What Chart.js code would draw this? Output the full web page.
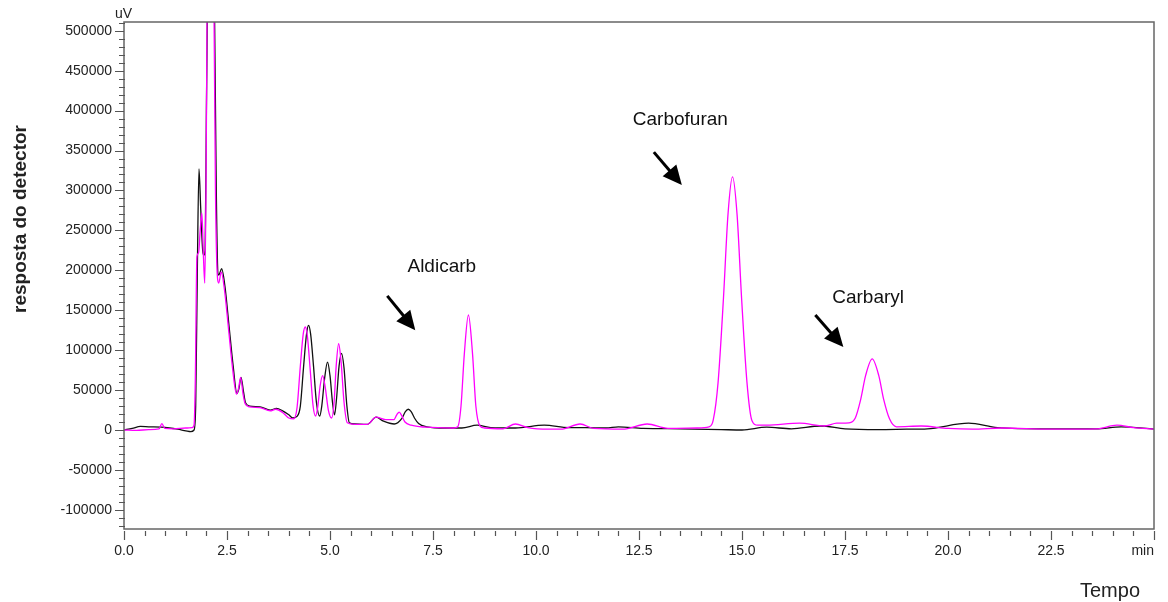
<!DOCTYPE html>
<html>
<head>
<meta charset="utf-8">
<script src="https://cdn.jsdelivr.net/npm/chart.js@4.4.0/dist/chart.umd.min.js"></script>
<style>
  html, body { margin: 0; padding: 0; background: #fff; }
  canvas { display: block; }
</style>
</head>
<body>
<canvas id="chrom" width="1168" height="602" style="width:1168px;height:602px"></canvas>
<script>
// retention time (min) and detector response (uV)
const blackTime = [0, 0.2, 0.4, 0.6, 0.9, 1.1, 1.3, 1.5, 1.62, 1.7, 1.74, 1.78, 1.82, 1.86, 1.91, 1.94, 1.97, 2.0, 2.03, 2.11, 2.19, 2.24, 2.28, 2.30, 2.37, 2.45, 2.55, 2.65, 2.74, 2.79, 2.84, 2.90, 2.95, 3.05, 3.3, 3.55, 3.7, 3.85, 4.0, 4.1, 4.2, 4.28, 4.36, 4.43, 4.48, 4.53, 4.6, 4.67, 4.75, 4.8, 4.87, 4.94, 5.0, 5.06, 5.11, 5.16, 5.22, 5.28, 5.34, 5.41, 5.47, 5.6, 5.9, 6.12, 6.3, 6.56, 6.75, 6.83, 6.9, 6.97, 7.05, 7.15, 7.35, 7.8, 8.2, 8.57, 8.9, 9.5, 10.2, 10.8, 11.2, 11.7, 12.0, 12.6, 13.5, 14.5, 15.0, 15.6, 16.2, 16.9, 17.5, 18.3, 19.0, 19.5, 20.5, 21.2, 22.4, 23.6, 24.2, 25.0];
const blackSignal = [0, 2000, 4500, 4000, 3500, 2500, 1000, -1000, -2000, 0, 30000, 200000, 327000, 280000, 225000, 219000, 225000, 400000, 560000, 1200000, 560000, 300000, 196000, 194000, 202000, 180000, 130000, 80000, 46000, 52000, 66000, 48000, 34000, 30000, 29000, 25000, 27000, 24000, 19000, 15000, 17000, 30000, 80000, 120000, 131000, 120000, 80000, 35000, 17500, 30000, 65000, 85000, 68000, 35000, 19000, 40000, 80000, 96000, 78000, 30000, 9000, 7500, 7000, 16000, 11000, 7500, 15000, 23000, 26000, 23000, 15000, 8000, 4000, 2500, 2500, 6000, 3000, 2500, 6000, 3000, 3000, 2500, 4000, 2000, 1500, 500, 0, 3500, 1500, 5000, 1500, 500, 1000, 1500, 8500, 3000, 1500, 1500, 4000, 1000];

const pinkTime = [0, 0.3, 0.6, 0.85, 0.92, 0.99, 1.2, 1.5, 1.65, 1.7, 1.73, 1.77, 1.81, 1.85, 1.89, 1.93, 1.96, 1.99, 2.02, 2.10, 2.18, 2.22, 2.27, 2.30, 2.36, 2.44, 2.54, 2.64, 2.73, 2.78, 2.83, 2.89, 2.94, 3.05, 3.3, 3.55, 3.68, 3.85, 4.0, 4.12, 4.2, 4.28, 4.35, 4.4, 4.45, 4.52, 4.59, 4.65, 4.7, 4.76, 4.82, 4.88, 4.96, 5.04, 5.1, 5.15, 5.21, 5.27, 5.34, 5.42, 5.6, 5.9, 6.12, 6.35, 6.55, 6.62, 6.68, 6.74, 6.82, 6.97, 7.33, 8.0, 8.1, 8.18, 8.26, 8.36, 8.46, 8.54, 8.64, 8.75, 9.2, 9.5, 9.8, 10.3, 10.6, 11.07, 11.4, 12.1, 12.7, 13.2, 13.9, 14.2, 14.3, 14.42, 14.55, 14.66, 14.77, 14.88, 14.99, 15.12, 15.24, 15.38, 15.6, 16.4, 17.0, 17.3, 17.6, 17.75, 17.88, 18.0, 18.16, 18.32, 18.44, 18.58, 18.75, 19.35, 20.0, 20.6, 21.3, 22.5, 23.6, 24.1, 24.5, 25.0];
const pinkSignal = [0, -500, 500, 1500, 8000, 2000, 1500, 2500, 3000, 6000, 60000, 217000, 222000, 250000, 272000, 215000, 184000, 300000, 560000, 1200000, 560000, 300000, 190000, 184000, 198000, 175000, 125000, 75000, 45000, 52000, 66000, 45000, 33000, 29000, 28000, 24000, 26000, 22000, 15000, 14000, 28000, 80000, 120000, 129000, 118000, 75000, 30000, 17500, 28000, 55000, 68000, 55000, 25000, 15000, 35000, 80000, 108000, 85000, 35000, 9000, 7000, 7000, 16000, 13000, 13000, 19000, 22500, 18000, 10000, 6000, 3500, 2500, 4000, 30000, 95000, 144000, 95000, 30000, 5000, 2500, 1500, 7500, 3000, 1000, 1000, 7500, 2000, 1000, 7500, 2000, 2500, 4000, 12000, 60000, 165000, 270000, 317000, 270000, 165000, 60000, 12000, 6000, 6000, 8500, 5000, 8500, 9000, 15000, 38000, 68000, 89000, 68000, 38000, 14000, 4000, 5000, 2000, 1000, 2500, 1000, 1500, 6000, 3000, 1000];

const xTicks = [0, 2.5, 5, 7.5, 10, 12.5, 15, 17.5, 20, 22.5, 25];
const yTicks = [-100000, -50000, 0, 50000, 100000, 150000, 200000, 250000, 300000, 350000, 400000, 450000, 500000];

// peak labels: text position and arrow tail/tip, in (min, uV)
const peakNames = ['Aldicarb', 'Carbofuran', 'Carbaryl'];
const labelAt = [[6.88, 198000], [12.35, 382000], [17.19, 159000]];
const arrowFrom = [[6.39, 168000], [12.86, 348000], [16.78, 144000]];
const arrowTo = [[7.07, 125000], [13.54, 307000], [17.46, 104000]];

const FONT = "'Liberation Sans', Arial, sans-serif";

const toPoints = (ts, vs) => ts.map((t, i) => ({ x: t, y: vs[i] }));

const chromDecor = {
    id: 'chromDecor',
    afterDraw(chart) {
        const { ctx, chartArea: a, scales: { x, y } } = chart;
        ctx.save();

        // frame
        ctx.strokeStyle = '#666';
        ctx.lineWidth = 1.5;
        ctx.strokeRect(a.left, a.top, a.right - a.left, a.bottom - a.top);

        // y ticks, minor every 10000
        ctx.lineWidth = 1.2;
        ctx.strokeStyle = '#555';
        ctx.beginPath();
        for (let v = -120000; v <= 510000; v += 10000) {
            const py = Math.round(y.getPixelForValue(v)) + 0.5;
            const major = v % 50000 === 0;
            ctx.moveTo(a.left - (major ? 9 : 5), py);
            ctx.lineTo(a.left + (major ? 0 : 1), py);
        }
        // x ticks, minor every 0.5 min
        for (let i = 0; i <= 50; i++) {
            const px = Math.round(x.getPixelForValue(i * 0.5)) + 0.5;
            const major = i % 5 === 0;
            ctx.moveTo(px, a.bottom + 2);
            ctx.lineTo(px, a.bottom + (major ? 11 : 7));
        }
        ctx.stroke();

        // axis unit and titles
        ctx.fillStyle = '#222';
        ctx.font = '14px ' + FONT;
        ctx.textAlign = 'left';
        ctx.textBaseline = 'alphabetic';
        ctx.fillText('uV', 115, 18);

        ctx.textAlign = 'right';
        ctx.fillText('min', a.right, 555);

        ctx.textAlign = 'left';
        ctx.font = '20px ' + FONT;
        ctx.fillText('Tempo', 1080, 597);

        ctx.save();
        ctx.translate(26, 219);
        ctx.rotate(-Math.PI / 2);
        ctx.textAlign = 'center';
        ctx.font = 'bold 19px ' + FONT;
        ctx.fillText('resposta do detector', 0, 0);
        ctx.restore();

        // peak labels + arrows
        ctx.strokeStyle = '#000';
        peakNames.forEach((name, i) => {
            ctx.fillStyle = '#111';
            ctx.font = '19px ' + FONT;
            ctx.fillText(name, x.getPixelForValue(labelAt[i][0]), y.getPixelForValue(labelAt[i][1]));

            const x0 = x.getPixelForValue(arrowFrom[i][0]), y0 = y.getPixelForValue(arrowFrom[i][1]);
            const x1 = x.getPixelForValue(arrowTo[i][0]), y1 = y.getPixelForValue(arrowTo[i][1]);
            const ang = Math.atan2(y1 - y0, x1 - x0);
            const head = 19, half = 9;
            const bx = x1 - Math.cos(ang) * head, by = y1 - Math.sin(ang) * head;

            ctx.lineWidth = 3;
            ctx.beginPath();
            ctx.moveTo(x0, y0);
            ctx.lineTo(bx + Math.cos(ang) * 2, by + Math.sin(ang) * 2);
            ctx.stroke();

            ctx.fillStyle = '#000';
            ctx.beginPath();
            ctx.moveTo(x1, y1);
            ctx.lineTo(bx - Math.sin(ang) * half, by + Math.cos(ang) * half);
            ctx.lineTo(bx + Math.sin(ang) * half, by - Math.cos(ang) * half);
            ctx.closePath();
            ctx.fill();
        });

        ctx.restore();
    }
};

new Chart(document.getElementById('chrom'), {
    type: 'line',
    data: {
        datasets: [
            {
                data: toPoints(pinkTime, pinkSignal),
                borderColor: '#FF00FF',
                borderWidth: 1.3,
                pointRadius: 0,
                cubicInterpolationMode: 'monotone'
            },
            {
                data: toPoints(blackTime, blackSignal),
                borderColor: '#111',
                borderWidth: 1.3,
                pointRadius: 0,
                cubicInterpolationMode: 'monotone'
            }
        ]
    },
    options: {
        responsive: false,
        animation: false,
        parsing: false,
        layout: { padding: { top: 22, right: 12, left: 0, bottom: 0 } },
        plugins: { legend: { display: false }, tooltip: { enabled: false } },
        scales: {
            x: {
                type: 'linear',
                min: 0,
                max: 25,
                grid: { display: false, drawTicks: false },
                border: { display: false },
                afterBuildTicks: (s) => { s.ticks = xTicks.map(v => ({ value: v })); },
                afterFit: (s) => { s.height = 73; },
                ticks: {
                    color: '#222',
                    padding: 14,
                    maxRotation: 0,
                    font: { family: FONT, size: 14 },
                    // the last tick carries the unit, drawn right-aligned by the plugin
                    callback: (v) => v === 25 ? '' : v.toFixed(1)
                }
            },
            y: {
                min: -124000,
                max: 511000,
                grid: { display: false, drawTicks: false },
                border: { display: false },
                afterBuildTicks: (s) => { s.ticks = yTicks.map(v => ({ value: v })); },
                afterFit: (s) => { s.width = 124; },
                ticks: {
                    color: '#222',
                    padding: 12,
                    font: { family: FONT, size: 14 },
                    callback: (v) => String(v)
                }
            }
        }
    },
    plugins: [chromDecor]
});
</script>
</body>
</html>
